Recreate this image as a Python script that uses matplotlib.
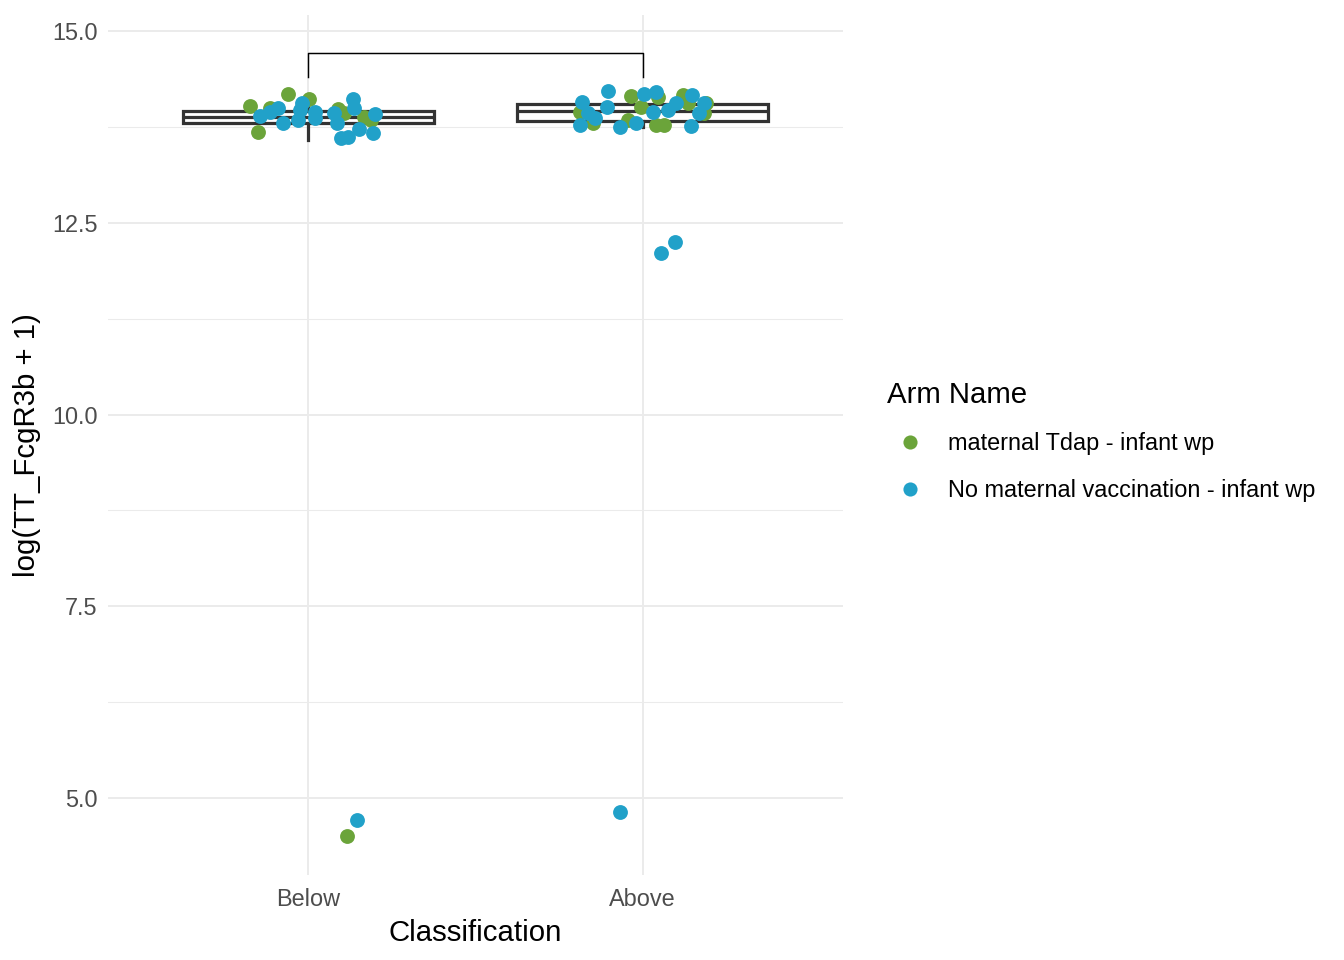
#!/usr/bin/env python3
"""TT_FcgR3b by classification, boxplot with jittered points coloured by arm."""

import matplotlib

matplotlib.use("Agg")
import matplotlib.pyplot as plt
from matplotlib.lines import Line2D

plt.rcParams["font.family"] = ["Liberation Sans", "DejaVu Sans"]

CATEGORIES = ["Below", "Above"]
ARMS = ["maternal Tdap - infant wp", "No maternal vaccination - infant wp"]
ARM_COLORS = ["#6BA43A", "#21A1C9"]

# box statistics per category
BOX_Q1 = [13.80, 13.833]
BOX_MED = [13.879, 13.961]
BOX_Q3 = [13.963, 14.048]
BOX_WHISLO = [13.58, 13.75]
BOX_WHISHI = [14.18, 14.22]

# jittered points: offset from category centre, value
BELOW_TDAP_DX = [-0.174, -0.150, -0.060, 0.003, -0.114, 0.087, 0.105, 0.165, 0.186, 0.114]
BELOW_TDAP_Y = [14.022, 13.683, 14.179, 14.113, 13.996, 13.983, 13.931, 13.879, 13.840, 4.505]

BELOW_NONE_DX = [-0.144, -0.114, -0.090, -0.075, -0.030, -0.018, -0.024, 0.021, 0.021,
                 0.075, 0.084, 0.096, 0.117, 0.132, 0.135, 0.150, 0.192, 0.198, 0.144]
BELOW_NONE_Y = [13.892, 13.944, 13.996, 13.801, 13.840, 14.061, 13.970, 13.944, 13.866,
                13.931, 13.801, 13.605, 13.618, 14.113, 13.996, 13.722, 13.670, 13.918, 4.713]

ABOVE_TDAP_DX = [-0.186, -0.147, -0.036, -0.045, -0.006, 0.045, 0.039, 0.063, 0.120,
                 0.135, 0.189, 0.183]
ABOVE_TDAP_Y = [13.944, 13.801, 14.153, 13.840, 14.009, 14.140, 13.774, 13.774, 14.166,
                14.061, 14.061, 13.931]

ABOVE_NONE_DX = [-0.180, -0.186, -0.162, -0.141, -0.102, -0.105, -0.066, -0.021, 0.003,
                 0.039, 0.030, 0.075, 0.099, 0.147, 0.144, 0.168, 0.183, 0.054, 0.096, -0.066]
ABOVE_NONE_Y = [14.074, 13.774, 13.931, 13.866, 14.218, 14.009, 13.748, 13.801, 14.179,
                14.205, 13.944, 13.970, 14.061, 14.166, 13.761, 13.931, 14.061, 12.106,
                12.249, 4.817]

BRACKET_Y = 14.71
BRACKET_TICK_Y = 14.40

fig = plt.figure(figsize=(7, 5), dpi=192)
ax = fig.add_axes([108 / 1344, 1 - 875 / 960, (843 - 108) / 1344, (875 - 15) / 960])

positions = [1, 2]
stats = []
for i, name in enumerate(CATEGORIES):
    stats.append(dict(label=name, q1=BOX_Q1[i], med=BOX_MED[i], q3=BOX_Q3[i],
                      whislo=BOX_WHISLO[i], whishi=BOX_WHISHI[i], fliers=[]))
line_kw = dict(color="#333333", linewidth=1.2)
ax.bxp(stats, positions=positions, widths=0.75, showcaps=False, patch_artist=True,
       boxprops=dict(facecolor="white", edgecolor="#333333", linewidth=1.2),
       medianprops=line_kw, whiskerprops=line_kw, zorder=2)

groups = [
    (1, BELOW_TDAP_DX, BELOW_TDAP_Y, 0),
    (2, ABOVE_TDAP_DX, ABOVE_TDAP_Y, 0),
    (1, BELOW_NONE_DX, BELOW_NONE_Y, 1),
    (2, ABOVE_NONE_DX, ABOVE_NONE_Y, 1),
]
for pos, dx, ys, arm in groups:
    ax.scatter([pos + d for d in dx], ys, s=31, color=ARM_COLORS[arm],
               linewidths=0, zorder=3)

# significance bracket
ax.plot([1, 1, 2, 2], [BRACKET_TICK_Y, BRACKET_Y, BRACKET_Y, BRACKET_TICK_Y],
        color="black", linewidth=0.55, zorder=4)

ax.set_xlim(0.4, 2.6)
ax.set_ylim(3.996, 15.209)
ax.set_xticks(positions)
ax.set_xticklabels(CATEGORIES)
ax.set_yticks([5.0, 7.5, 10.0, 12.5, 15.0])
ax.set_yticklabels(["5.0", "7.5", "10.0", "12.5", "15.0"])
ax.set_yticks([6.25, 8.75, 11.25, 13.75], minor=True)
ax.tick_params(axis="both", which="both", length=0, labelsize=8.8, labelcolor="#4D4D4D")
ax.tick_params(axis="y", pad=4)
ax.tick_params(axis="x", pad=5)
ax.grid(True, which="major", color="#EBEBEB", linewidth=0.75)
ax.grid(True, which="minor", color="#EBEBEB", linewidth=0.4)
ax.set_axisbelow(True)
for spine in ax.spines.values():
    spine.set_visible(False)

ax.set_xlabel("Classification", fontsize=11, labelpad=3)
ax.set_ylabel("log(TT_FcgR3b + 1)", fontsize=11, labelpad=4)

handles = [Line2D([], [], linestyle="none", marker="o", markersize=5.3,
                  markerfacecolor=c, markeredgewidth=0) for c in ARM_COLORS]
leg = fig.legend(handles, ARMS, title="Arm Name", loc="upper left",
                 bbox_to_anchor=(887 / 1344, 1 - 381 / 960), frameon=False,
                 fontsize=8.8, title_fontsize=11, alignment="left",
                 handlelength=1.96, handletextpad=0.64, labelspacing=1.0,
                 borderpad=0, borderaxespad=0)

fig.savefig("out.png", dpi=192, facecolor="white")
